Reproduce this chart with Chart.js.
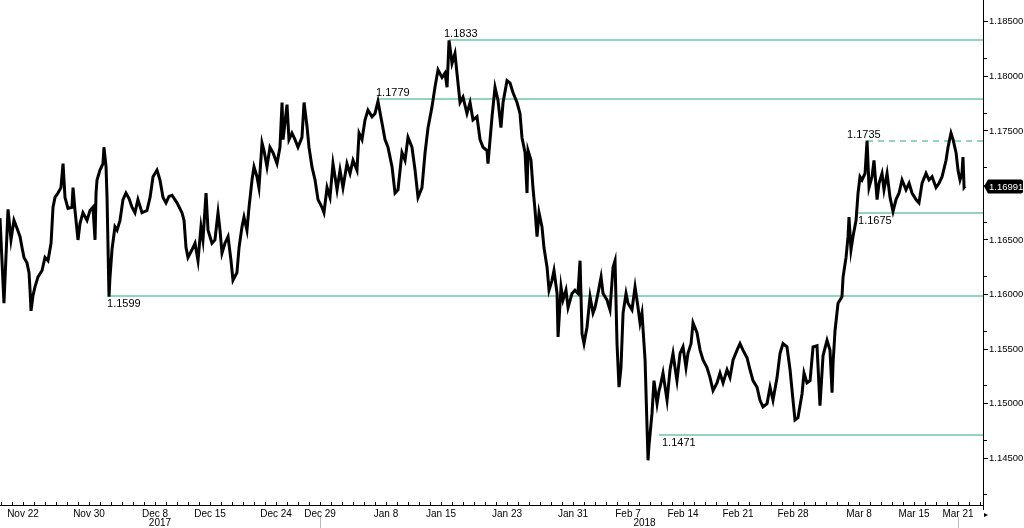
<!DOCTYPE html>
<html>
<head>
<meta charset="utf-8">
<script src="https://cdn.jsdelivr.net/npm/chart.js@4.4.1/dist/chart.umd.min.js"></script>
<style>
html, body { margin: 0; padding: 0; background: #fff; }
#wrap { width: 1024px; height: 528px; }
</style>
</head>
<body>
<div id="wrap"><canvas id="chart"></canvas></div>
<script>
// x = trading day index (Nov 22 = 0), y = EUR/USD
const quotes = [
  [-2.09,1.1670],[-1.73,1.1592],[-1.36,1.1678],[-1.09,1.1650],[-0.82,1.1668],[-0.55,1.1661],[-0.27,1.1653],[-0.09,1.1643],
  [0.09,1.1634],[0.36,1.1629],[0.55,1.1620],[0.64,1.1604],[0.73,1.1585],[0.91,1.1599],[1.09,1.1607],[1.36,1.1616],
  [1.73,1.1622],[2.0,1.1634],[2.27,1.1631],[2.55,1.1647],[2.73,1.1680],[2.91,1.1689],[3.18,1.1693],[3.45,1.1698],
  [3.64,1.1720],[3.82,1.1689],[4.09,1.1679],[4.45,1.1680],[4.55,1.1698],[4.73,1.1677],[4.91,1.1659],[5.0,1.1650],
  [5.18,1.1665],[5.45,1.1675],[5.82,1.1668],[6.09,1.1677],[6.36,1.1680],[6.55,1.1650],[6.64,1.1693],[6.73,1.1705],
  [7.0,1.1714],[7.27,1.1720],[7.36,1.1735],[7.55,1.1717],[7.64,1.1689],[7.82,1.1598],[7.91,1.1616],[8.09,1.1641],
  [8.36,1.1662],[8.55,1.1659],[8.82,1.1668],[9.09,1.1687],[9.36,1.1693],[9.64,1.1688],[9.91,1.1680],[10.18,1.1675],
  [10.45,1.1687],[10.82,1.1675],[11.27,1.1677],[11.55,1.1689],[11.82,1.1708],[12.18,1.1714],[12.45,1.1705],[12.73,1.1689],
  [13.0,1.1684],[13.27,1.1690],[13.55,1.1691],[14.0,1.1684],[14.45,1.1675],[14.64,1.1668],[14.82,1.1643],[15.0,1.1634],
  [15.36,1.1641],[15.64,1.1647],[15.91,1.1631],[16.18,1.1662],[16.36,1.1650],[16.64,1.1693],[16.82,1.1659],[17.18,1.1647],
  [17.45,1.1650],[17.73,1.1675],[17.91,1.1659],[18.09,1.1638],[18.36,1.1647],[18.64,1.1653],[18.91,1.1631],[19.09,1.1613],
  [19.45,1.1620],[19.64,1.1643],[19.91,1.1662],[20.09,1.1671],[20.36,1.1659],[20.55,1.1680],[20.82,1.1705],[21.0,1.1717],
  [21.27,1.1708],[21.45,1.1698],[21.73,1.1739],[21.91,1.1732],[22.18,1.1717],[22.45,1.1735],[22.73,1.1730],[23.09,1.1720],
  [23.36,1.1735],[23.55,1.1776],[23.64,1.1742],[24.0,1.1774],[24.18,1.1742],[24.45,1.1748],[24.73,1.1742],[25.0,1.1735],
  [25.36,1.1744],[25.55,1.1776],[25.82,1.1754],[26.0,1.1735],[26.27,1.1717],[26.55,1.1705],[26.82,1.1687],[27.18,1.1680],
  [27.36,1.1675],[27.64,1.1698],[27.91,1.1689],
  [28.18,1.1720],[28.55,1.1696],[28.82,1.1714],[29.09,1.1698],[29.45,1.1720],[29.73,1.1711],[30.0,1.1723],[30.36,1.1714],
  [30.55,1.1748],[30.82,1.1742],[31.09,1.1760],[31.36,1.1769],[31.73,1.1763],[32.0,1.1766],[32.27,1.1777],[32.64,1.1757],
  [32.91,1.1742],[33.18,1.1735],[33.55,1.1717],[33.82,1.1693],[34.09,1.1696],[34.45,1.1730],[34.73,1.1723],[35.0,1.1744],
  [35.36,1.1735],[35.64,1.1714],[35.91,1.1689],[36.27,1.1698],[36.55,1.1730],[36.82,1.1753],[37.18,1.1772],[37.45,1.1790],
  [37.73,1.1806],[38.09,1.1799],[38.36,1.1803],[38.55,1.1790],[38.73,1.1833],[39.0,1.1812],[39.27,1.1821],[39.45,1.1803],
  [39.73,1.1776],[40.0,1.1781],[40.36,1.1766],[40.64,1.1776],[40.91,1.1760],[41.27,1.1763],[41.55,1.1742],[41.82,1.1735],
  [42.18,1.1732],[42.27,1.1720],[42.64,1.1763],[42.91,1.1790],
  [43.18,1.1778],[43.45,1.1753],[43.64,1.1776],[44.0,1.1796],[44.27,1.1794],[44.55,1.1785],[44.91,1.1776],[45.18,1.1766],
  [45.36,1.1744],[45.64,1.1730],[45.82,1.1693],[45.91,1.1732],[46.18,1.1723],[46.36,1.1698],[46.55,1.1677],[46.73,1.1653],
  [46.91,1.1675],[47.18,1.1662],[47.36,1.1643],[47.64,1.1625],[47.82,1.1604],[48.09,1.1613],[48.27,1.1622],[48.55,1.1601],
  [48.64,1.1561],[48.91,1.1607],[49.09,1.1595],[49.36,1.1604],[49.55,1.1588],[49.91,1.1601],[50.18,1.1604],[50.45,1.1601],
  [50.64,1.1631],[50.82,1.1564],[51.0,1.1555],[51.27,1.1570],[51.55,1.1598],[51.82,1.1583],[52.0,1.1588],[52.27,1.1601],
  [52.55,1.1616],[52.73,1.1601],[53.09,1.1595],[53.36,1.1586],[53.64,1.1625],[53.82,1.1631],[54.0,1.1555],[54.18,1.1515],
  [54.36,1.1533],[54.55,1.1583],[54.82,1.1601],[55.0,1.1592],[55.36,1.1586],[55.64,1.1607],[55.91,1.1588],[56.09,1.1574],
  [56.27,1.1583],[56.55,1.1540],[56.73,1.1478],[56.82,1.1448],[56.91,1.1462],[57.18,1.1491],[57.36,1.1521],[57.64,1.1500],
  [57.82,1.1512],[57.91,1.1515],
  [58.18,1.1528],[58.55,1.1503],[58.82,1.1531],[59.09,1.1546],[59.27,1.1533],[59.45,1.1521],[59.73,1.1546],[60.0,1.1552],
  [60.27,1.1533],[60.45,1.1546],[60.73,1.1555],[60.91,1.1574],[61.27,1.1565],[61.55,1.1549],[61.82,1.1540],[62.18,1.1533],
  [62.45,1.1524],[62.73,1.1512],[63.09,1.1519],[63.36,1.1528],[63.64,1.1519],[64.0,1.1531],[64.27,1.1524],[64.55,1.1540],
  [64.91,1.1549],[65.18,1.1555],[65.45,1.1549],[65.82,1.1542],[66.09,1.1531],[66.36,1.1521],[66.73,1.1515],[67.0,1.1503],
  [67.27,1.1497],[67.64,1.1500],[67.91,1.1515],[68.18,1.1503],[68.55,1.1524],[68.82,1.1546],[69.09,1.1555],[69.45,1.1552],
  [69.73,1.1531],[70.0,1.1503],[70.18,1.1485],[70.45,1.1487],[70.82,1.1509],[71.0,1.1528],[71.27,1.1519],[71.55,1.1521],
  [71.82,1.1552],[72.18,1.1553],[72.45,1.1498],[72.73,1.1544],[73.09,1.1558],[73.36,1.1549],[73.55,1.1510],[73.64,1.1537],
  [73.82,1.1567],[74.09,1.1592],
  [74.45,1.1598],[74.55,1.1616],[74.82,1.1634],[75.0,1.1653],[75.09,1.1671],[75.27,1.1641],[75.45,1.1653],[75.73,1.1668],
  [75.91,1.1693],[76.09,1.1708],[76.27,1.1705],[76.55,1.1711],[76.73,1.1741],[76.91,1.1698],[77.18,1.1708],[77.36,1.1723],
  [77.64,1.1687],[77.82,1.1702],[78.09,1.1711],[78.27,1.1696],[78.55,1.1711],[78.82,1.1689],[79.09,1.1676],[79.36,1.1687],
  [79.64,1.1693],[79.91,1.1705],[80.27,1.1696],[80.55,1.1702],[80.82,1.1693],[81.18,1.1687],[81.45,1.1684],[81.73,1.1702],
  [82.09,1.1711],[82.36,1.1705],[82.64,1.1708],[83.0,1.1698],[83.27,1.1702],[83.55,1.1708],[83.91,1.1723],[84.09,1.1735],
  [84.36,1.1748],[84.55,1.1742],[84.82,1.1730],[85.0,1.1714],[85.18,1.1705],[85.36,1.1711],[85.45,1.1726],[85.55,1.1698],
  [85.64,1.16991]
];

const tickDays = [0, 6, 12, 17, 23, 27, 33, 38, 44, 50, 55, 60, 65, 70, 76, 81, 85];
const tickLabels = ['Nov 22', 'Nov 30', 'Dec 8', 'Dec 15', 'Dec 24', 'Dec 29', 'Jan 8', 'Jan 15', 'Jan 23',
  'Jan 31', 'Feb 7', 'Feb 14', 'Feb 21', 'Feb 28', 'Mar 8', 'Mar 15', 'Mar 21'];
const yearLabels = ['2017', '2018'];
const yearDays = [12.45, 56.5];
const yearBreaks = [27, 85];

const yTicks = [1.145, 1.150, 1.155, 1.160, 1.165, 1.170, 1.175, 1.180, 1.185];
const yMinorTicks = [1.14167, 1.14667, 1.15167, 1.15667, 1.16167, 1.16667, 1.17167, 1.17667, 1.18167];

// support / resistance levels
const levelValues = [1.1833, 1.1779, 1.1741, 1.1675, 1.1599, 1.1471];
const levelTexts = ['1.1833', '1.1779', '1.1735', '1.1675', '1.1599', '1.1471'];
const levelFrom = [38.73, 32.27, 76.73, 75.91, 7.73, 57.8];
const levelTextAt = [38.27, 32.09, 74.91, 75.91, 7.64, 58.09];
const levelBelow = [false, false, false, true, true, true];
const levelDashed = [false, false, true, false, false, false];

const lastPrice = 1.16991;

const levelColor = '#6fc6a9';
const fontFamily = 'Liberation Sans';

const overlay = {
  id: 'overlay',
  beforeDatasetsDraw(chart) {
    const { ctx, chartArea, scales: { x, y } } = chart;
    ctx.save();
    ctx.strokeStyle = levelColor;
    ctx.lineWidth = 1.5;
    levelValues.forEach((v, i) => {
      const py = Math.round(y.getPixelForValue(v));
      ctx.setLineDash(levelDashed[i] ? [6, 5] : []);
      ctx.beginPath();
      ctx.moveTo(x.getPixelForValue(levelFrom[i]), py);
      ctx.lineTo(chartArea.right, py);
      ctx.stroke();
    });
    ctx.restore();
  },
  afterDatasetsDraw(chart) {
    const { ctx, scales: { x, y } } = chart;
    ctx.save();
    ctx.fillStyle = '#000';
    ctx.font = '11px ' + fontFamily;
    ctx.textAlign = 'left';
    ctx.textBaseline = 'alphabetic';
    levelValues.forEach((v, i) => {
      const py = y.getPixelForValue(v);
      const ty = levelBelow[i] ? py + 11 : py - 3;
      ctx.fillText(levelTexts[i], x.getPixelForValue(levelTextAt[i]), ty);
    });
    ctx.restore();
  },
  afterDraw(chart) {
    const { ctx, chartArea, scales: { x, y } } = chart;
    ctx.save();
    // day ticks on the time axis
    ctx.strokeStyle = '#000';
    ctx.lineWidth = 1;
    for (let d = -2; d <= 87; d++) {
      const px = Math.round(x.getPixelForValue(d)) + 0.5;
      ctx.beginPath();
      ctx.moveTo(px, chartArea.bottom - 3);
      ctx.lineTo(px, chartArea.bottom);
      ctx.stroke();
    }
    // minor price ticks
    yMinorTicks.forEach(v => {
      const py = Math.round(y.getPixelForValue(v)) + 0.5;
      ctx.beginPath();
      ctx.moveTo(chartArea.right, py);
      ctx.lineTo(chartArea.right + 4, py);
      ctx.stroke();
    });
    // axis tail + little arrow
    ctx.beginPath();
    ctx.moveTo(chartArea.right + 0.5, chartArea.bottom);
    ctx.lineTo(chartArea.right + 0.5, chartArea.bottom + 5);
    ctx.stroke();
    ctx.fillStyle = '#000';
    ctx.beginPath();
    ctx.moveTo(chartArea.right + 1, chartArea.bottom + 8);
    ctx.lineTo(chartArea.right + 5, chartArea.bottom + 10);
    ctx.lineTo(chartArea.right + 1, chartArea.bottom + 12);
    ctx.closePath();
    ctx.fill();
    // year separators and labels
    ctx.strokeStyle = '#bbbbbb';
    yearBreaks.forEach(d => {
      const px = Math.round(x.getPixelForValue(d)) + 0.5;
      ctx.beginPath();
      ctx.moveTo(px, chartArea.bottom + 12);
      ctx.lineTo(px, chart.height);
      ctx.stroke();
    });
    ctx.fillStyle = '#000';
    ctx.font = '10px ' + fontFamily;
    ctx.textAlign = 'center';
    ctx.textBaseline = 'middle';
    yearLabels.forEach((t, i) => {
      ctx.fillText(t, x.getPixelForValue(yearDays[i]), chartArea.bottom + 18);
    });
    // last price tag
    const py = y.getPixelForValue(lastPrice);
    const l = chartArea.right + 1, r = chart.width - 1;
    ctx.fillStyle = '#000';
    ctx.beginPath();
    ctx.moveTo(l, py);
    ctx.lineTo(l + 4, py - 7);
    ctx.lineTo(r - 2, py - 7);
    ctx.quadraticCurveTo(r, py - 7, r, py - 5);
    ctx.lineTo(r, py + 5);
    ctx.quadraticCurveTo(r, py + 7, r - 2, py + 7);
    ctx.lineTo(l + 4, py + 7);
    ctx.closePath();
    ctx.fill();
    ctx.fillStyle = '#fff';
    ctx.font = '9.5px ' + fontFamily;
    ctx.textAlign = 'left';
    ctx.fillText(lastPrice.toFixed(5), l + 5, py + 0.5);
    ctx.restore();
  }
};

Chart.defaults.font.family = fontFamily;
Chart.defaults.font.size = 10;
Chart.defaults.color = '#000';

new Chart(document.getElementById('chart'), {
  type: 'line',
  data: {
    datasets: [{
      data: quotes.map(([d, p]) => ({ x: d, y: p })),
      borderColor: '#000',
      borderWidth: 3,
      pointRadius: 0,
      tension: 0
    }]
  },
  options: {
    responsive: true,
    maintainAspectRatio: false,
    animation: false,
    devicePixelRatio: 1,
    layout: { padding: 0 },
    plugins: { legend: { display: false }, tooltip: { enabled: false } },
    scales: {
      x: {
        type: 'linear',
        min: -2.09,
        max: 87.27,
        afterBuildTicks: scale => { scale.ticks = tickDays.map(v => ({ value: v })); },
        afterFit: scale => { scale.height = 23; scale.paddingLeft = 0; scale.paddingRight = 0; },
        grid: { display: false, drawTicks: false },
        border: { display: true, color: '#000', width: 1 },
        ticks: {
          padding: 3,
          maxRotation: 0,
          autoSkip: false,
          font: { size: 10 },
          callback: v => tickLabels[tickDays.indexOf(v)] || ''
        }
      },
      y: {
        position: 'right',
        min: 1.1407,
        max: 1.1870,
        afterBuildTicks: scale => { scale.ticks = yTicks.map(v => ({ value: v })); },
        afterFit: scale => { scale.width = 41; scale.paddingTop = 0; scale.paddingBottom = 0; },
        grid: { drawOnChartArea: false, drawTicks: true, tickLength: 5, color: '#000' },
        border: { display: true, color: '#000', width: 1 },
        ticks: {
          padding: 1,
          font: { size: 9.5 },
          callback: v => v.toFixed(5)
        }
      }
    }
  },
  plugins: [overlay]
});
</script>
</body>
</html>
